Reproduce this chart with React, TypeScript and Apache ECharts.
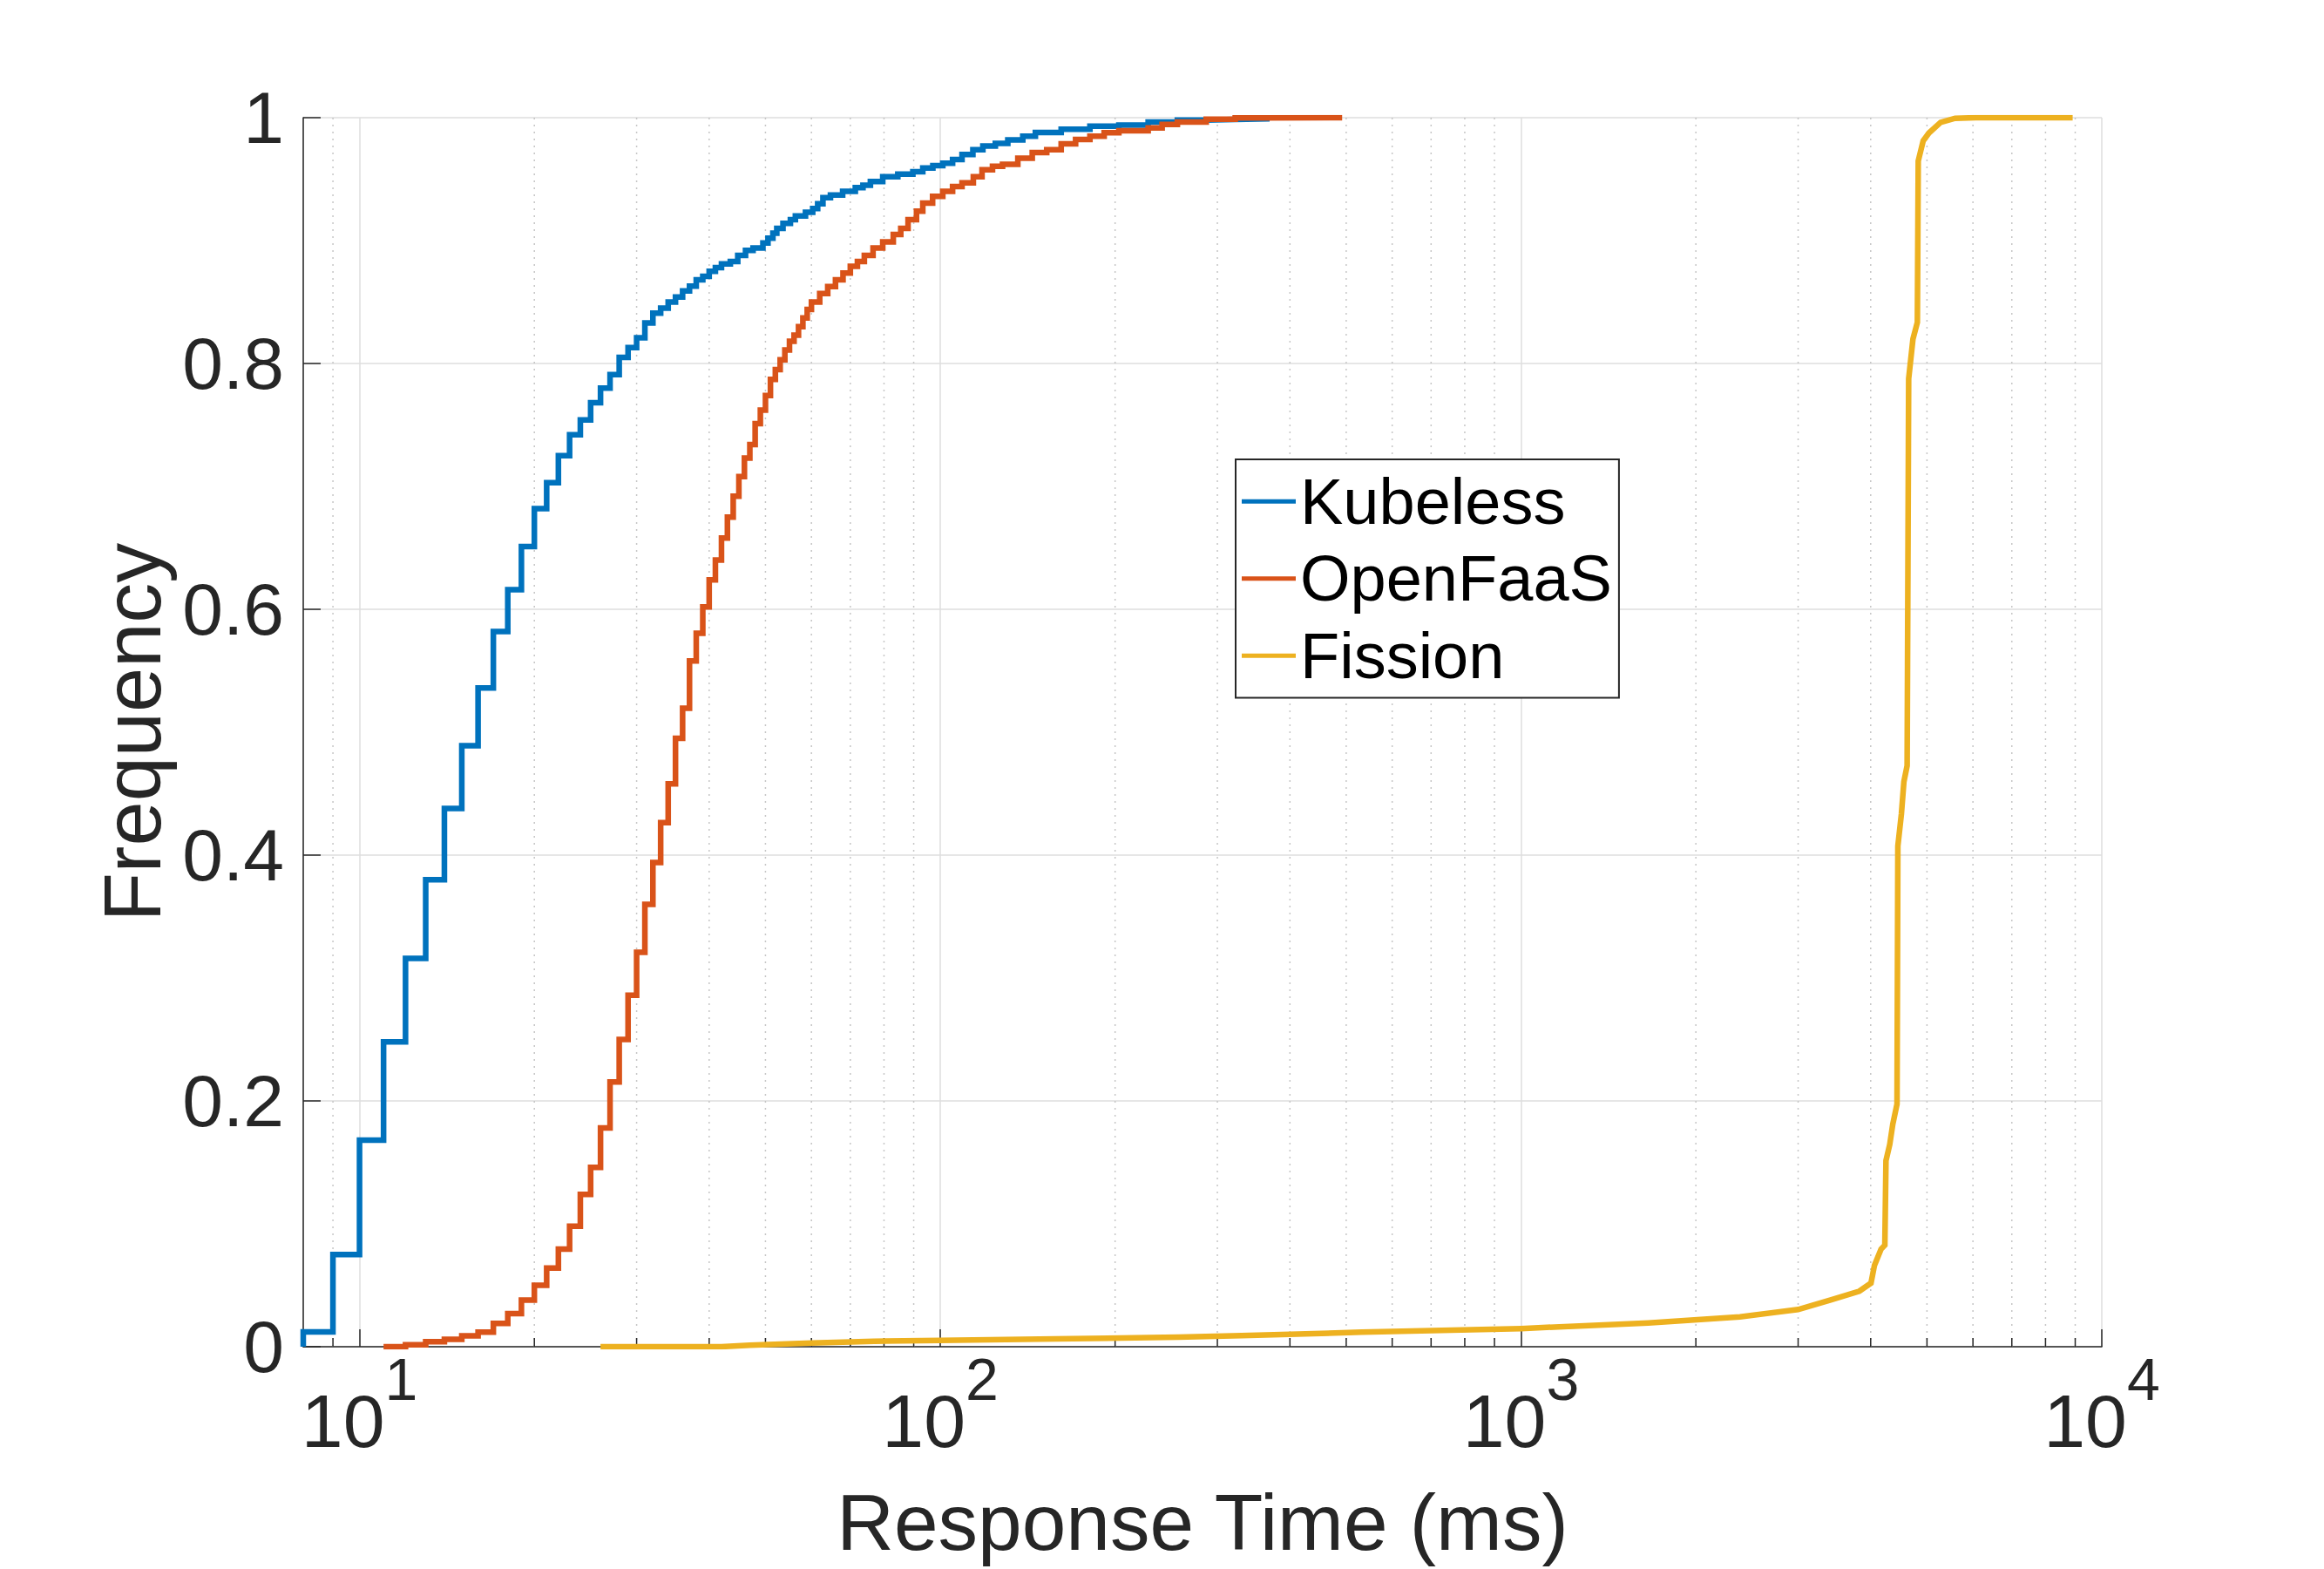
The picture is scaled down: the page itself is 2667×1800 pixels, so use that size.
import React, { useEffect, useRef } from 'react';
import * as echarts from 'echarts';

const SERIES_NAMES = ['Kubeless', 'OpenFaaS', 'Fission'];
const SERIES_COLORS = ['#0072BD', '#D95319', '#EDB120'];

const KUBELESS_X = [8, 8, 9, 10, 11, 12, 13, 14, 15, 16, 17, 18, 19, 20, 21, 22, 23, 24, 25, 26, 27, 28, 29, 30, 31, 32, 33, 34, 35, 36, 37, 38, 39, 40, 41, 42,
  43.5, 44.8, 46.2, 47.6, 49.5, 50.5, 51.5, 52.3, 53.6, 55.2, 56.3, 58.6, 60.3, 61.5, 62.8, 64.7, 67.9, 71.4, 73.6, 75.8,
  79.6, 84.5, 89.7, 93.3, 97.1, 101, 105, 109, 113.8, 118.4, 124.4, 130.7, 138.7, 145.8, 161.5, 181, 203, 228, 256, 287, 322, 365];
const KUBELESS_F = [0, 0.012, 0.075, 0.168, 0.248, 0.316, 0.380, 0.438, 0.489, 0.536, 0.582, 0.616, 0.651, 0.682, 0.703, 0.725, 0.742, 0.754, 0.768, 0.780,
  0.791, 0.805, 0.813, 0.821, 0.833, 0.841, 0.845, 0.850, 0.854, 0.859, 0.863, 0.868, 0.871, 0.875, 0.878, 0.881,
  0.883, 0.888, 0.892, 0.894, 0.898, 0.902, 0.906, 0.910, 0.914, 0.917, 0.920, 0.923, 0.926, 0.930, 0.935, 0.937, 0.940, 0.943, 0.945, 0.948,
  0.952, 0.954, 0.956, 0.959, 0.961, 0.963, 0.966, 0.970, 0.974, 0.977, 0.979, 0.982, 0.985, 0.988, 0.9906, 0.993, 0.994, 0.9965, 0.998, 0.9985, 0.999, 1.0];

const OPENFAAS_X = [11, 12, 13, 14, 15, 16, 17, 18, 19, 20, 21, 22, 23, 24, 25, 26, 27, 28, 29, 30, 31, 32, 33, 34, 35, 36, 37, 38, 39, 40,
  41, 42, 43, 44, 45, 46, 47, 48, 49, 50, 51, 52, 53, 54, 55, 56, 57, 58, 59, 60,
  62, 64, 66, 68, 70, 72, 74, 76.6, 79.6, 83, 85.5, 88, 91, 93.3, 97, 101, 105, 109, 114, 118,
  123, 128, 136, 144, 152.5, 161.5, 171, 181, 191.5, 203, 228, 241, 256, 287, 322, 361, 492];
const OPENFAAS_F = [0, 0.0016, 0.004, 0.006, 0.0089, 0.0118, 0.019, 0.027, 0.038, 0.050, 0.064, 0.0795, 0.098, 0.124, 0.146, 0.178, 0.2155, 0.250, 0.286, 0.321,
  0.360, 0.394, 0.4265, 0.458, 0.495, 0.5195, 0.558, 0.5805, 0.602, 0.624, 0.640, 0.658, 0.675, 0.692, 0.708, 0.723, 0.734, 0.751, 0.762, 0.774,
  0.787, 0.795, 0.803, 0.811, 0.818, 0.823, 0.830, 0.837, 0.844, 0.850,
  0.857, 0.8626, 0.868, 0.8735, 0.879, 0.883, 0.888, 0.894, 0.899, 0.905, 0.910, 0.917, 0.924, 0.9305, 0.936, 0.940, 0.944, 0.947, 0.952, 0.9576,
  0.9604, 0.962, 0.967, 0.9716, 0.974, 0.9787, 0.9823, 0.985, 0.9877, 0.9894, 0.9917, 0.9945, 0.9965, 0.9988, 0.9998, 1.0, 1.0];

const FISSION_X = [26, 42, 47, 60, 77, 100, 158, 257, 330, 532, 1000, 1656, 2382, 3000, 3412, 3824, 4005, 4060, 4168, 4231,
  4250, 4314, 4366, 4440, 4455, 4518, 4563, 4622, 4650, 4730, 4813, 4830, 4926, 5040, 5278, 5591, 6070, 8909];
const FISSION_F = [0, 0, 0.0012, 0.003, 0.0045, 0.0052, 0.0064, 0.0078, 0.009, 0.0118, 0.0148, 0.0194, 0.0243, 0.0303, 0.038, 0.0452, 0.0518, 0.0662, 0.0794, 0.0826,
  0.1515, 0.1646, 0.181, 0.1974, 0.4073, 0.4335, 0.4597, 0.4728, 0.7876, 0.820, 0.8335, 0.9648, 0.9812, 0.9876, 0.9962, 0.9995, 1.0, 1.0];

const MINOR_X = [9, 20, 30, 40, 50, 60, 70, 80, 90, 200, 300, 400, 500, 600, 700, 800, 900,
  2000, 3000, 4000, 5000, 6000, 7000, 8000, 9000];

const X_MIN = 8;
const X_MAX = 10000;
const Y_MIN = 0;
const Y_MAX = 1;
const Y_STEP = 0.2;

const X_TITLE = 'Response Time (ms)';
const Y_TITLE = 'Frequency';

const FONT = "'Liberation Sans', Arial, Helvetica, sans-serif";
const AXIS_COLOR = '#262626';

function zip(xs: number[], ys: number[]) {
  return xs.map((x, i) => [x, ys[i]]);
}

export default function App() {
  const ref = useRef<HTMLDivElement>(null);
  useEffect(() => {
    document.body.style.margin = '0';
    const chart = echarts.init(ref.current as HTMLDivElement, null, { renderer: 'svg' });
    const lineSeries = [KUBELESS_X, OPENFAAS_X, FISSION_X].map((xs, i) => ({
      name: SERIES_NAMES[i],
      type: 'line',
      data: zip(xs, [KUBELESS_F, OPENFAAS_F, FISSION_F][i]),
      step: i < 2 ? 'end' : undefined,
      showSymbol: false,
      symbol: 'none',
      color: SERIES_COLORS[i],
      lineStyle: { width: 6.5, color: SERIES_COLORS[i], cap: 'butt', join: 'miter' },
      z: 5,
      silent: true,
    }));
    const option: any = {
      animation: false,
      backgroundColor: '#ffffff',
      textStyle: { fontFamily: FONT },
      grid: { left: 348, right: 255, top: 135, bottom: 255, outerBoundsMode: 'none', containLabel: false },
      legend: {
        data: SERIES_NAMES.map((n) => ({ name: n, icon: 'rect' })),
        orient: 'vertical',
        left: 1418,
        top: 527,
        padding: [4, 8, 4, 7],
        itemWidth: 62,
        itemHeight: 5,
        itemGap: 0,
        borderColor: AXIS_COLOR,
        borderWidth: 2,
        backgroundColor: '#ffffff',
        selectedMode: false,
        textStyle: { fontSize: 74, lineHeight: 88.5, color: '#000000', fontFamily: FONT },
      },
      xAxis: {
        type: 'log',
        logBase: 10,
        min: X_MIN,
        max: X_MAX,
        name: X_TITLE,
        nameLocation: 'middle',
        nameGap: 156,
        nameTextStyle: { fontSize: 91, color: AXIS_COLOR, fontFamily: FONT },
        axisLine: { show: true, onZero: false, lineStyle: { color: AXIS_COLOR, width: 1.5 } },
        axisTick: { show: true, inside: true, length: 20, lineStyle: { color: AXIS_COLOR, width: 1.5 } },
        splitLine: { show: true, lineStyle: { color: '#dedede', width: 1.5 } },
        minorTick: { show: false },
        minorSplitLine: { show: false },
        axisLabel: {
          showMinLabel: false,
          margin: 3,
          color: AXIS_COLOR,
          formatter: (v: number) => `{b|10}{s|${Math.round(Math.log10(v))}}`,
          rich: {
            b: { fontSize: 86, lineHeight: 125, color: AXIS_COLOR, fontFamily: FONT, verticalAlign: 'bottom' },
            s: { fontSize: 68, color: AXIS_COLOR, fontFamily: FONT, verticalAlign: 'top' },
          },
        },
      },
      yAxis: {
        type: 'value',
        min: Y_MIN,
        max: Y_MAX,
        interval: Y_STEP,
        name: Y_TITLE,
        nameLocation: 'middle',
        nameGap: 150,
        nameTextStyle: { fontSize: 92, color: AXIS_COLOR, fontFamily: FONT },
        axisLine: { show: true, lineStyle: { color: AXIS_COLOR, width: 1.5 } },
        axisTick: { show: true, inside: true, length: 20, lineStyle: { color: AXIS_COLOR, width: 1.5 } },
        splitLine: { show: true, lineStyle: { color: '#dedede', width: 1.5 } },
        axisLabel: {
          fontSize: 84,
          color: AXIS_COLOR,
          margin: 22,
          fontFamily: FONT,
          formatter: (v: number) => String(Math.round(v * 10) / 10),
        },
      },
      series: [
        {
          name: 'minor',
          type: 'custom',
          silent: true,
          z: 1,
          data: MINOR_X.map((v) => [v, 0]),
          encode: { x: 0, y: 1 },
          renderItem: (params: any, api: any) => {
            const v = api.value(0);
            const top = api.coord([v, Y_MAX]);
            const bot = api.coord([v, Y_MIN]);
            return {
              type: 'group',
              children: [
                {
                  type: 'line',
                  shape: { x1: top[0], y1: top[1], x2: bot[0], y2: bot[1] },
                  style: { stroke: '#c6c6c6', lineWidth: 1.5, lineDash: [2, 6] },
                },
                {
                  type: 'line',
                  shape: { x1: bot[0], y1: bot[1], x2: bot[0], y2: bot[1] - 10 },
                  style: { stroke: AXIS_COLOR, lineWidth: 1.5 },
                },
              ],
            };
          },
        },
        ...lineSeries,
      ],
    };
    chart.setOption(option);
    return () => chart.dispose();
  }, []);
  return (
    <div
      ref={ref}
      style={{ position: 'fixed', left: 0, top: 0, width: 2667, height: 1800, background: '#ffffff' }}
    />
  );
}
